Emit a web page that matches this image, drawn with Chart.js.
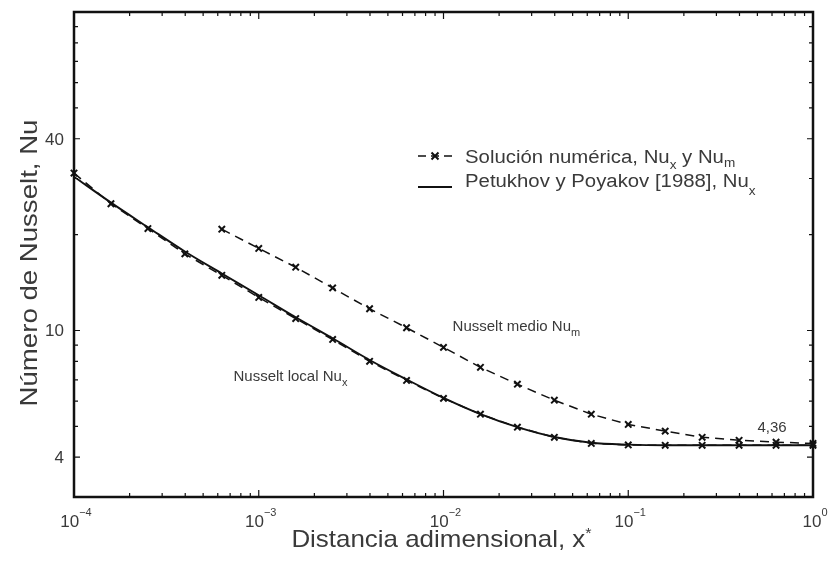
<!DOCTYPE html>
<html lang="es">
<head>
<meta charset="utf-8">
<title>Número de Nusselt</title>
<script src="https://cdn.jsdelivr.net/npm/chart.js@4.4.1/dist/chart.umd.min.js"></script>
<style>
  html, body { margin: 0; padding: 0; background: #fff; }
  #contenedor { width: 828px; height: 563px; }
</style>
</head>
<body>
<div id="contenedor"><canvas id="grafico" width="828" height="563"></canvas></div>
<script>
// Distancia adimensional x* (5 puntos por década)
const distancia = [1e-4, 1.585e-4, 2.512e-4, 3.981e-4, 6.31e-4, 1e-3, 1.585e-3, 2.512e-3, 3.981e-3, 6.31e-3,
  1e-2, 1.585e-2, 2.512e-2, 3.981e-2, 6.31e-2, 0.1, 0.1585, 0.2512, 0.3981, 0.631, 1];
// Solución numérica, Nusselt local
const nuLocal = [31.2, 25.0, 20.9, 17.4, 14.9, 12.7, 10.9, 9.37, 8.0, 6.97,
  6.12, 5.46, 4.97, 4.62, 4.42, 4.37, 4.36, 4.36, 4.36, 4.36, 4.36];
// Solución numérica, Nusselt medio (empieza en x* = 6.31e-4)
const distanciaMedio = distancia.slice(4);
const nuMedio = [20.8, 18.1, 15.8, 13.6, 11.7, 10.2, 8.85, 7.66, 6.78, 6.04, 5.46, 5.07, 4.83, 4.62, 4.52, 4.46, 4.42];
// Petukhov y Poyakov [1988], Nusselt local
const nuPetukhov = [30.4, 25.2, 21.1, 17.7, 15.1, 12.9, 11.0, 9.45, 8.08, 7.02,
  6.14, 5.46, 4.97, 4.63, 4.44, 4.38, 4.36, 4.36, 4.36, 4.36, 4.36];

// Marcas de los ejes
const ticksX = [1e-4, 1e-3, 1e-2, 1e-1, 1];
const exponentesX = ['-4', '-3', '-2', '-1', '0'];
const ticksY = [4, 10, 40];

const FUENTE = '"Liberation Sans", Arial, sans-serif';
const NEGRO = '#111';
const GRIS = '#3a3a3a';

function puntos(xs, ys) {
  return ys.map((y, i) => ({ x: xs[i], y: y }));
}

// Escribe texto con partes (subíndices / superíndices): [texto, tamaño, desplazamientoY]
function escribir(ctx, partes, x, y, alin, estirar) {
  ctx.save();
  let ancho = 0;
  partes.forEach(p => { ctx.font = p[1] + 'px ' + FUENTE; ancho += ctx.measureText(p[0]).width; });
  ctx.translate(x, y);
  ctx.scale(estirar || 1, 1);
  let cx = alin === 'center' ? -ancho / 2 : (alin === 'right' ? -ancho : 0);
  ctx.textBaseline = 'alphabetic';
  ctx.textAlign = 'left';
  partes.forEach(p => {
    ctx.font = p[1] + 'px ' + FUENTE;
    ctx.fillText(p[0], cx, p[2] || 0);
    cx += ctx.measureText(p[0]).width;
  });
  ctx.restore();
}

function cruz(ctx, x, y, r) {
  ctx.beginPath();
  ctx.moveTo(x - r, y - r); ctx.lineTo(x + r, y + r);
  ctx.moveTo(x - r, y + r); ctx.lineTo(x + r, y - r);
  ctx.stroke();
}

// Etiquetas dentro del gráfico, ancladas en coordenadas de datos
const etiquetas = [
  { partes: [['Nusselt local Nu', 15], ['x', 11, 5]], x: 7.3e-4, y: 7.2 },
  { partes: [['Nusselt medio Nu', 15], ['m', 11, 5]], x: 1.12e-2, y: 10.3 },
  { partes: [['4,36', 15]], x: 0.5, y: 4.97 }
];

const ejesPlugin = {
  id: 'ejes',
  afterDraw(chart) {
    const ctx = chart.ctx;
    const a = chart.chartArea;
    const sx = chart.scales.x, sy = chart.scales.y;
    ctx.save();
    ctx.strokeStyle = NEGRO;
    ctx.fillStyle = GRIS;

    // marco
    ctx.lineWidth = 2.5;
    ctx.strokeRect(a.left, a.top, a.right - a.left, a.bottom - a.top);

    // marcas hacia dentro en X (abajo y arriba)
    ctx.lineWidth = 1.2;
    for (let d = -4; d <= 0; d++) {
      for (let m = 1; m <= 9; m++) {
        const v = m * Math.pow(10, d);
        if (v > sx.max * 1.0001) continue;
        const px = sx.getPixelForValue(v);
        const lg = m === 1 ? 7 : 4;
        ctx.beginPath();
        ctx.moveTo(px, a.bottom); ctx.lineTo(px, a.bottom - lg);
        ctx.moveTo(px, a.top); ctx.lineTo(px, a.top + lg);
        ctx.stroke();
      }
    }
    // marcas hacia dentro en Y (izquierda y derecha)
    for (let d = 0; d <= 2; d++) {
      for (let m = 1; m <= 9; m++) {
        const v = m * Math.pow(10, d);
        if (v < sy.min || v > sy.max) continue;
        const py = sy.getPixelForValue(v);
        const lg = ticksY.includes(v) ? 6 : 4;
        ctx.beginPath();
        ctx.moveTo(a.left, py); ctx.lineTo(a.left + lg, py);
        ctx.moveTo(a.right, py); ctx.lineTo(a.right - lg, py);
        ctx.stroke();
      }
    }

    // etiquetas de X: 10 con exponente
    ticksX.forEach((v, i) => {
      const px = sx.getPixelForValue(v);
      const exp = exponentesX[i].startsWith('-') ? '\u2212' + exponentesX[i].slice(1) : exponentesX[i];
      ctx.font = '17px ' + FUENTE;
      const w1 = ctx.measureText('10').width;
      ctx.font = '11px ' + FUENTE;
      const w2 = ctx.measureText(exp).width;
      escribir(ctx, [['10', 17], [exp, 11, -11]], px - (w1 + w2) / 2 + 2, a.bottom + 30, 'left');
    });
    // etiquetas de Y
    ticksY.forEach(v => {
      const py = sy.getPixelForValue(v);
      escribir(ctx, [[String(v), 17]], a.left - 10, py + 6, 'right');
    });

    // títulos de los ejes
    escribir(ctx, [['Distancia adimensional, x', 24], ['*', 15, -9]], (a.left + a.right) / 2 - 2, 547, 'center', 1.08);
    ctx.save();
    ctx.translate(37, 263);
    ctx.rotate(-Math.PI / 2);
    escribir(ctx, [['Número de Nusselt, Nu', 24]], 0, 0, 'center', 1.15);
    ctx.restore();

    // leyenda
    ctx.lineWidth = 1.5;
    ctx.setLineDash([8, 5]);
    ctx.beginPath(); ctx.moveTo(418, 156); ctx.lineTo(452, 156); ctx.stroke();
    ctx.setLineDash([]);
    ctx.lineWidth = 2;
    cruz(ctx, 435, 156, 3.5);
    ctx.lineWidth = 1.8;
    ctx.beginPath(); ctx.moveTo(418, 187); ctx.lineTo(452, 187); ctx.stroke();
    escribir(ctx, [['Solución numérica, Nu', 18], ['x', 12, 6], [' y Nu', 18], ['m', 12, 4]], 465, 163, 'left', 1.13);
    escribir(ctx, [['Petukhov y Poyakov [1988], Nu', 18], ['x', 12, 8]], 465, 187, 'left', 1.13);

    // etiquetas de las curvas
    etiquetas.forEach(e => {
      escribir(ctx, e.partes, sx.getPixelForValue(e.x), sy.getPixelForValue(e.y) + 5, 'left');
    });
    ctx.restore();
  }
};

new Chart(document.getElementById('grafico'), {
  type: 'line',
  data: {
    datasets: [
      {
        label: 'Petukhov y Poyakov [1988], Nu_x',
        data: puntos(distancia, nuPetukhov),
        borderColor: NEGRO,
        borderWidth: 1.9,
        pointRadius: 0,
        cubicInterpolationMode: 'monotone',
        fill: false,
        order: 0,
        clip: false
      },
      {
        label: 'Solución numérica, Nu_x',
        data: puntos(distancia, nuLocal),
        borderColor: NEGRO,
        borderWidth: 1.5,
        borderDash: [9, 6],
        pointStyle: 'crossRot',
        pointRadius: 4.5,
        pointBorderWidth: 2,
        pointBorderColor: NEGRO,
        fill: false,
        order: 1,
        clip: false
      },
      {
        label: 'Solución numérica, Nu_m',
        data: puntos(distanciaMedio, nuMedio),
        borderColor: NEGRO,
        borderWidth: 1.5,
        borderDash: [9, 6],
        pointStyle: 'crossRot',
        pointRadius: 4.5,
        pointBorderWidth: 2,
        pointBorderColor: NEGRO,
        fill: false,
        order: 2,
        clip: false
      }
    ]
  },
  options: {
    responsive: false,
    animation: false,
    layout: { padding: { left: 74, right: 15, top: 12, bottom: 66 } },
    plugins: {
      legend: { display: false },
      tooltip: { enabled: false }
    },
    scales: {
      x: { type: 'logarithmic', min: 1e-4, max: 1, display: false },
      y: { type: 'logarithmic', min: 3, max: 100, display: false }
    }
  },
  plugins: [ejesPlugin]
});
</script>
</body>
</html>
